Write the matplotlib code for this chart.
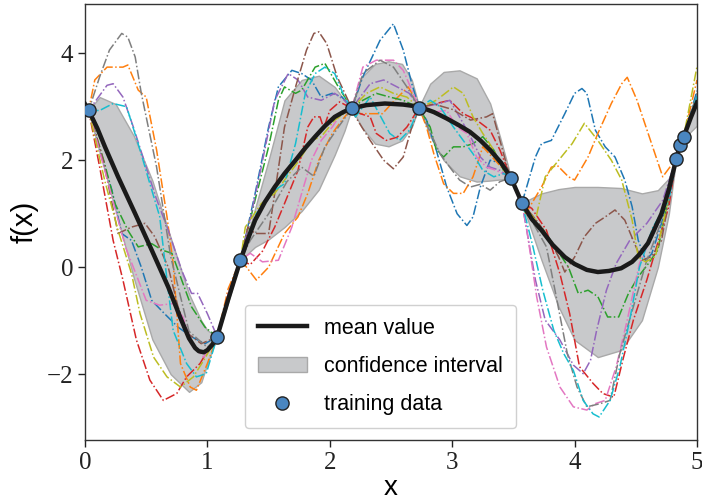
import numpy as np
import matplotlib
matplotlib.use('Agg')
import matplotlib.pyplot as plt

# training points
train_x = [0.03, 1.08, 1.27, 2.18, 2.73, 3.48, 3.57, 4.83, 4.86, 4.89]
train_y = [2.93, -1.30, 0.13, 2.97, 2.98, 1.67, 1.20, 2.03, 2.28, 2.43]

# posterior mean
mean_x = [0.0, 0.03, 0.1, 0.163, 0.27, 0.41, 0.545, 0.68, 0.78, 0.85, 0.9, 0.93, 0.97, 1.0, 1.04,
          1.08, 1.17, 1.27, 1.33, 1.39, 1.47, 1.55, 1.63, 1.72, 1.8, 1.88, 1.96, 2.04, 2.11, 2.18,
          2.3, 2.45, 2.6, 2.73, 2.85, 2.955, 3.05, 3.145, 3.23, 3.31, 3.4, 3.48, 3.57, 3.65, 3.73,
          3.82, 3.92, 4.0, 4.1, 4.19, 4.28, 4.38, 4.47, 4.53, 4.6, 4.66, 4.71, 4.77, 4.83, 4.86,
          4.89, 4.95, 5.0]
mean_y = [3.05, 2.93, 2.6, 2.25, 1.69, 1.0, 0.32, -0.37, -0.95, -1.33, -1.51, -1.57, -1.59, -1.55, -1.45,
          -1.3, -0.6, 0.13, 0.52, 0.88, 1.22, 1.5, 1.75, 2.0, 2.23, 2.44, 2.64, 2.81, 2.9, 2.97,
          3.03, 3.06, 3.04, 3.0, 2.9, 2.78, 2.66, 2.53, 2.37, 2.19, 1.95, 1.67, 1.2, 0.9, 0.69,
          0.42, 0.19, 0.06, -0.05, -0.09, -0.07, -0.02, 0.1, 0.24, 0.45, 0.75, 1.0, 1.45, 2.02, 2.28,
          2.43, 2.8, 3.08]

# confidence band
band_x = [0.0, 0.03, 0.12, 0.25, 0.4, 0.55, 0.7, 0.85, 0.95, 1.0, 1.08, 1.17, 1.27, 1.39, 1.5,
          1.63, 1.77, 1.91, 2.04, 2.12, 2.18, 2.26, 2.37, 2.48, 2.59, 2.67, 2.73, 2.82, 2.93,
          3.06, 3.2, 3.31, 3.39, 3.45, 3.48, 3.57, 3.73, 3.87, 4.0, 4.19, 4.38, 4.55, 4.68,
          4.77, 4.83, 4.89, 5.0]
band_hi = [3.02, 2.93, 3.18, 3.05, 2.45, 1.62, 0.55, -0.5, -1.0, -1.18, -1.3, -0.55, 0.13, 1.1, 2.0,
           3.12, 3.5, 3.58, 3.37, 3.12, 2.97, 3.55, 3.8, 3.85, 3.8, 3.5, 3.0, 3.43, 3.65,
           3.68, 3.53, 3.06, 2.44, 1.94, 1.67, 1.2, 1.38, 1.46, 1.5, 1.5, 1.48, 1.38, 1.44,
           1.66, 2.02, 2.5, 3.25]
band_lo = [2.9, 2.93, 2.15, 1.06, -0.21, -1.35, -2.0, -2.33, -2.15, -1.8, -1.3, -0.65, 0.13, 0.38, 0.52,
           0.75, 1.05, 1.45, 2.1, 2.55, 2.97, 2.62, 2.31, 2.26, 2.37, 2.62, 3.0, 2.45, 2.0,
           1.7, 1.6, 1.62, 1.64, 1.66, 1.67, 1.2, 0.13, -0.74, -1.36, -1.68, -1.55, -0.99, 0.0,
           1.0, 2.02, 2.4, 2.65]

# posterior samples
blue_x = [0, 0.03, 0.11, 0.22, 0.30, 0.38, 0.46, 0.545, 0.65, 0.76, 0.87, 0.98, 1.08, 1.17, 1.27,
          1.39, 1.50, 1.58, 1.69, 1.77, 1.85, 1.93, 2.02, 2.10, 2.18, 2.27, 2.41, 2.52, 2.60, 2.67,
          2.73, 2.79, 2.87, 2.955, 3.04, 3.12, 3.17, 3.23, 3.31, 3.39, 3.48, 3.57, 3.68, 3.73, 3.81,
          3.92, 4.0, 4.06, 4.10, 4.17, 4.25, 4.33, 4.41, 4.47, 4.52, 4.58, 4.63, 4.71, 4.80, 4.83,
          4.86, 4.89, 5.0]
blue_y = [2.97, 2.93, 2.25, 1.44, 0.63, 0.5, 0.0, -0.62, -0.87, -1.12, -1.3, -1.43, -1.3, -0.55, 0.13,
          1.38, 2.62, 3.37, 3.68, 3.62, 3.5, 3.18, 3.25, 3.18, 2.97, 3.56, 4.24, 4.55, 4.06, 3.43,
          2.98, 2.75, 2.19, 1.5, 1.0, 0.78, 0.94, 1.5, 2.0, 1.95, 1.67, 1.2, 2.06, 2.31, 2.37,
          2.87, 3.25, 3.34, 3.25, 2.56, 2.25, 2.06, 1.63, 1.13, 0.5, 0.13, 0.25, 0.82, 1.63, 2.03,
          2.28, 2.43, 3.3]

orange_x = [0, 0.03, 0.08, 0.18, 0.31, 0.35, 0.435, 0.50, 0.585, 0.67, 0.72, 0.78, 0.86, 0.91, 1.0,
            1.08, 1.17, 1.27, 1.32, 1.40, 1.50, 1.63, 1.74, 1.82, 1.91, 2.02, 2.10, 2.18, 2.25, 2.37,
            2.43, 2.53, 2.64, 2.69, 2.73, 2.79, 2.85, 2.93, 3.01, 3.09, 3.17, 3.25, 3.35, 3.48, 3.57,
            3.6, 3.73, 3.81, 3.86, 3.95, 4.0, 4.11, 4.19, 4.30, 4.385, 4.43, 4.51, 4.62, 4.72, 4.83,
            4.86, 4.89, 5.0]
orange_y = [2.95, 2.93, 3.5, 3.74, 3.74, 3.78, 3.31, 3.18, 2.19, 0.94, 0.07, -1.8, -2.24, -2.3, -1.8,
            -1.3, -0.4, 0.13, 0.0, -0.24, 0.0, 0.63, 0.94, 1.38, 2.0, 2.5, 2.75, 2.97, 2.87, 2.87,
            2.87, 3.12, 3.37, 3.18, 2.98, 2.62, 2.12, 1.56, 1.38, 1.38, 1.69, 2.25, 2.0, 1.67, 1.2,
            1.0, 1.5, 1.87, 1.9, 1.69, 1.63, 2.06, 2.5, 3.06, 3.43, 3.55, 3.12, 2.37, 1.69, 2.03,
            2.28, 2.43, 3.5]

green_x = [0, 0.03, 0.16, 0.245, 0.35, 0.435, 0.545, 0.63, 0.71, 0.79, 0.87, 0.98, 1.08, 1.17, 1.27,
           1.39, 1.50, 1.58, 1.63, 1.72, 1.77, 1.88, 1.96, 2.07, 2.18, 2.27, 2.38, 2.49, 2.6, 2.73,
           2.82, 2.87, 2.93, 3.01, 3.09, 3.17, 3.25, 3.34, 3.42, 3.48, 3.57, 3.6, 3.73, 3.84, 3.95,
           4.03, 4.11, 4.19, 4.27, 4.36, 4.44, 4.52, 4.6, 4.68, 4.83, 4.86, 4.89, 5.0]
green_y = [2.95, 2.93, 1.94, 1.19, 0.69, 0.38, 0.44, 0.32, 0.26, -0.24, -0.74, -1.12, -1.3, -0.6, 0.13,
           1.26, 2.25, 3.12, 3.37, 3.25, 3.31, 3.74, 3.81, 3.37, 2.97, 3.12, 3.25, 3.18, 3.12, 2.98,
           2.62, 2.19, 2.06, 2.25, 2.25, 2.31, 2.44, 2.19, 1.81, 1.67, 1.2, 1.0, 0.75, 0.38, 0.0,
           -0.49, -0.43, -0.55, -0.93, -0.93, -0.49, -0.18, 0.06, 0.32, 2.03, 2.28, 2.43, 3.2]

red_x = [0, 0.03, 0.12, 0.23, 0.31, 0.42, 0.53, 0.64, 0.75, 0.83, 0.94, 1.02, 1.08, 1.17, 1.27,
         1.35, 1.45, 1.55, 1.63, 1.74, 1.82, 1.87, 1.92, 1.95, 2.0, 2.08, 2.18, 2.21, 2.33, 2.38,
         2.46, 2.55, 2.63, 2.73, 2.85, 2.98, 3.09, 3.2, 3.31, 3.39, 3.48, 3.57, 3.65, 3.77, 3.88,
         3.96, 4.04, 4.15, 4.23, 4.32, 4.40, 4.48, 4.59, 4.67, 4.77, 4.83, 4.86, 4.89, 5.0]
red_y = [2.95, 2.93, 1.87, 0.5, -0.24, -1.36, -2.11, -2.49, -2.36, -2.05, -1.8, -1.49, -1.3, -0.5, 0.13,
         0.05, 0.3, 0.75, 1.19, 1.81, 2.62, 2.81, 2.81, 2.6, 2.93, 3.09, 2.97, 2.9, 2.81, 2.5,
         2.37, 2.43, 2.62, 2.98, 3.05, 3.12, 2.87, 2.75, 2.56, 2.19, 1.67, 1.2, 1.1, 0.69, -0.12,
         -0.87, -1.86, -2.17, -2.36, -2.43, -1.68, -0.99, -0.24, 0.38, 1.13, 2.03, 2.28, 2.43, 3.1]

purple_x = [0, 0.03, 0.18, 0.23, 0.31, 0.395, 0.50, 0.58, 0.68, 0.79, 0.87, 0.92, 1.0, 1.08, 1.17,
            1.27, 1.35, 1.44, 1.55, 1.66, 1.74, 1.82, 1.93, 2.04, 2.12, 2.18, 2.33, 2.44, 2.55, 2.65,
            2.73, 2.9, 2.98, 3.06, 3.15, 3.23, 3.31, 3.39, 3.48, 3.57, 3.68, 3.76, 3.88, 3.99, 4.07,
            4.13, 4.18, 4.26, 4.34, 4.45, 4.59, 4.72, 4.83, 4.86, 4.89, 5.0]
purple_y = [2.95, 2.93, 3.4, 3.43, 3.18, 2.62, 1.87, 1.3, 0.69, -0.06, -0.49, -0.49, -0.87, -1.3, -0.6,
            0.13, 0.9, 1.87, 3.12, 3.62, 3.5, 3.18, 3.12, 3.25, 3.12, 2.97, 3.43, 3.5, 3.37, 3.25,
            2.98, 3.06, 3.12, 2.81, 2.44, 2.06, 1.87, 1.81, 1.67, 1.2, -0.24, -0.99, -1.36, -1.83, -1.99,
            -1.74, -1.18, -0.43, 0.07, 0.5, 0.82, 1.25, 2.03, 2.28, 2.43, 3.1]

brown_x = [0, 0.03, 0.15, 0.27, 0.38, 0.49, 0.57, 0.68, 0.76, 0.84, 0.95, 1.08, 1.17, 1.27, 1.33,
           1.39, 1.50, 1.55, 1.63, 1.72, 1.81, 1.87, 1.91, 1.975, 2.06, 2.18, 2.21, 2.33, 2.44, 2.52,
           2.60, 2.67, 2.73, 2.85, 3.0, 3.15, 3.28, 3.33, 3.39, 3.45, 3.48, 3.57, 3.68, 3.785, 3.87,
           3.92, 4.0, 4.08, 4.17, 4.25, 4.33, 4.41, 4.49, 4.55, 4.63, 4.71, 4.83, 4.86, 4.89, 5.0]
brown_y = [2.95, 2.93, 2.0, 0.63, 0.75, 0.82, 0.57, 0.0, -0.74, -1.24, -1.43, -1.3, -0.6, 0.13, 0.75,
           0.63, 0.63, 1.38, 2.62, 3.37, 4.06, 4.37, 4.4, 4.18, 3.56, 2.97, 2.81, 2.37, 2.0, 1.84,
           2.06, 2.62, 2.98, 3.05, 2.95, 2.75, 2.81, 2.87, 2.37, 1.87, 1.67, 1.2, 0.9, 0.57, 0.19,
           -0.09, 0.19, 0.57, 0.82, 0.94, 1.07, 0.88, 0.44, 0.13, 0.2, 0.5, 2.03, 2.28, 2.43, 3.15]

pink_x = [0, 0.03, 0.11, 0.22, 0.33, 0.50, 0.61, 0.72, 0.80, 0.885, 0.97, 1.08, 1.17, 1.27, 1.35,
          1.45, 1.58, 1.69, 1.77, 1.85, 1.93, 2.02, 2.1, 2.18, 2.27, 2.38, 2.52, 2.6, 2.67, 2.73,
          2.85, 2.955, 3.04, 3.12, 3.2, 3.28, 3.36, 3.48, 3.57, 3.61, 3.69, 3.77, 3.88, 3.99, 4.10,
          4.17, 4.25, 4.34, 4.43, 4.53, 4.64, 4.77, 4.83, 4.86, 4.89, 5.0]
pink_y = [2.95, 2.93, 2.25, 1.31, 0.38, -0.62, -0.71, -0.68, -0.93, -1.49, -1.68, -1.3, -0.5, 0.13, 0.26,
          0.1, 0.13, 0.75, 1.38, 2.0, 2.37, 2.62, 2.9, 2.97, 3.74, 3.87, 3.87, 3.68, 3.31, 2.98,
          2.9, 2.93, 2.62, 2.5, 2.06, 1.87, 1.81, 1.67, 1.2, 0.69, -0.55, -1.49, -2.24, -2.61, -2.67,
          -2.55, -2.49, -1.86, -0.99, 0.07, 0.63, 1.3, 2.03, 2.28, 2.43, 3.2]

gray_x = [0, 0.03, 0.12, 0.20, 0.30, 0.35, 0.41, 0.46, 0.585, 0.7, 0.85, 1.0, 1.08, 1.17, 1.27,
          1.35, 1.5, 1.65, 1.77, 1.87, 1.96, 2.07, 2.18, 2.27, 2.41, 2.52, 2.63, 2.73, 2.9, 2.98,
          3.06, 3.15, 3.23, 3.31, 3.39, 3.48, 3.57, 3.77, 3.85, 3.94, 4.02, 4.1, 4.21, 4.29, 4.37,
          4.48, 4.59, 4.7, 4.83, 4.86, 4.89, 5.0]
gray_y = [2.95, 2.93, 3.56, 4.06, 4.37, 4.3, 3.93, 3.25, 1.87, 0.2, -1.2, -1.5, -1.3, -0.6, 0.13,
          0.5, 1.0, 1.6, 1.87, 1.7, 2.25, 2.62, 2.97, 3.62, 3.87, 3.74, 3.37, 2.98, 2.12, 1.87,
          1.63, 1.5, 1.55, 1.44, 1.6, 1.67, 1.2, 0.38, -0.55, -1.61, -2.24, -2.61, -2.55, -2.49, -1.61,
          -0.74, 0.13, 0.8, 2.03, 2.28, 2.43, 3.25]

olive_x = [0, 0.03, 0.16, 0.27, 0.38, 0.45, 0.56, 0.67, 0.78, 0.885, 0.97, 1.08, 1.17, 1.27, 1.31,
           1.44, 1.55, 1.63, 1.75, 1.85, 1.93, 2.04, 2.18, 2.30, 2.41, 2.52, 2.63, 2.73, 2.87, 3.01,
           3.09, 3.17, 3.25, 3.34, 3.42, 3.48, 3.57, 3.68, 3.76, 3.87, 3.98, 4.08, 4.19, 4.30, 4.385,
           4.47, 4.52, 4.58, 4.66, 4.74, 4.83, 4.86, 4.89, 5.0]
olive_y = [2.95, 2.93, 1.63, 0.69, -0.12, -0.87, -1.68, -2.05, -2.24, -2.05, -1.74, -1.3, -0.6, 0.13, 0.75,
           1.19, 1.38, 1.63, 2.0, 2.37, 2.44, 2.75, 2.97, 3.25, 3.37, 3.25, 3.18, 2.98, 3.12, 3.37,
           3.25, 2.81, 2.5, 2.19, 1.81, 1.67, 1.2, 0.88, 1.69, 2.0, 2.31, 2.69, 2.37, 2.0, 1.63,
           0.88, 0.19, 0.1, 0.2, 1.0, 2.03, 2.28, 2.43, 3.75]

cyan_x = [0, 0.03, 0.12, 0.23, 0.34, 0.45, 0.53, 0.61, 0.67, 0.72, 0.83, 0.91, 0.99, 1.08, 1.17,
          1.27, 1.4, 1.55, 1.63, 1.72, 1.80, 1.88, 1.96, 2.04, 2.12, 2.18, 2.21, 2.33, 2.49, 2.57,
          2.65, 2.73, 2.82, 2.9, 3.01, 3.09, 3.17, 3.25, 3.34, 3.42, 3.48, 3.57, 3.66, 3.74, 3.83,
          3.91, 3.99, 4.07, 4.15, 4.2, 4.29, 4.37, 4.45, 4.53, 4.64, 4.77, 4.83, 4.86, 4.89, 5.0]
cyan_y = [2.95, 2.93, 2.93, 3.06, 3.0, 2.19, 1.56, 0.95, -0.24, -1.18, -1.8, -2.05, -1.99, -1.3, -0.6,
          0.13, 1.0, 1.44, 1.56, 2.31, 3.25, 3.62, 3.74, 3.62, 3.18, 2.97, 2.81, 3.18, 2.5, 2.37,
          2.56, 2.98, 3.12, 3.0, 2.62, 2.37, 2.12, 1.81, 1.69, 1.75, 1.67, 1.2, 0.38, -0.43, -1.18,
          -1.61, -1.93, -2.49, -2.74, -2.8, -2.49, -1.86, -0.99, 0.0, 0.75, 1.25, 2.03, 2.28, 2.43, 3.2]

samples = [(blue_x, blue_y, 'tab:blue'), (orange_x, orange_y, 'tab:orange'),
           (green_x, green_y, 'tab:green'), (red_x, red_y, 'tab:red'),
           (purple_x, purple_y, 'tab:purple'), (brown_x, brown_y, 'tab:brown'),
           (pink_x, pink_y, 'tab:pink'), (gray_x, gray_y, 'tab:gray'),
           (olive_x, olive_y, 'tab:olive'), (cyan_x, cyan_y, 'tab:cyan')]

fig = plt.figure(figsize=(7.02, 5.03), dpi=100)
ax = fig.add_axes([85/702, 63/503, 612/702, 436/503])

ax.fill_between(band_x, band_lo, band_hi, facecolor='#c8c9cb', edgecolor='#a9a9a9',
                linewidth=1.0, label='confidence interval', zorder=1)
for sx, sy, c in samples:
    ax.plot(sx, sy, linestyle='-.', color=c, linewidth=1.1, zorder=2)
ax.plot(mean_x, mean_y, color='#1a1a1a', linewidth=3.2, label='mean value', zorder=3,
        solid_joinstyle='round')
ax.plot(train_x, train_y, 'o', color='#4a86c0', markeredgecolor='#222222', markeredgewidth=1.0,
        markersize=9.5, label='training data', zorder=4)

ax.set_xlim(0, 5)
ax.set_ylim(-3.23, 4.92)
ax.set_xticks([0, 1, 2, 3, 4, 5])
ax.set_yticks([-2, 0, 2, 4])
ax.set_yticklabels(['\u22122', '0', '2', '4'])
for lab in ax.get_xticklabels() + ax.get_yticklabels():
    lab.set_family('Liberation Serif')
    lab.set_fontsize(18)
ax.tick_params(direction='out', length=5, width=1, colors='#222222')
for sp in ax.spines.values():
    sp.set_color('#333333')
    sp.set_linewidth(1.0)

ax.set_xlabel('x', fontsize=20, family='Liberation Sans', labelpad=1)
ax.set_ylabel('f(x)', fontsize=21, family='Liberation Sans', labelpad=6)

h, l = ax.get_legend_handles_labels()
order = [l.index('mean value'), l.index('confidence interval'), l.index('training data')]
leg = ax.legend([h[i] for i in order], [l[i] for i in order], loc='lower left',
                bbox_to_anchor=(0.261, 0.027), borderaxespad=0,
                prop={'family': 'Liberation Sans', 'size': 15.5},
                handlelength=2.3, labelspacing=0.8, borderpad=0.6, fancybox=True,
                framealpha=1.0, edgecolor='#d0d0d0')

fig.savefig('out.png', dpi=100)
